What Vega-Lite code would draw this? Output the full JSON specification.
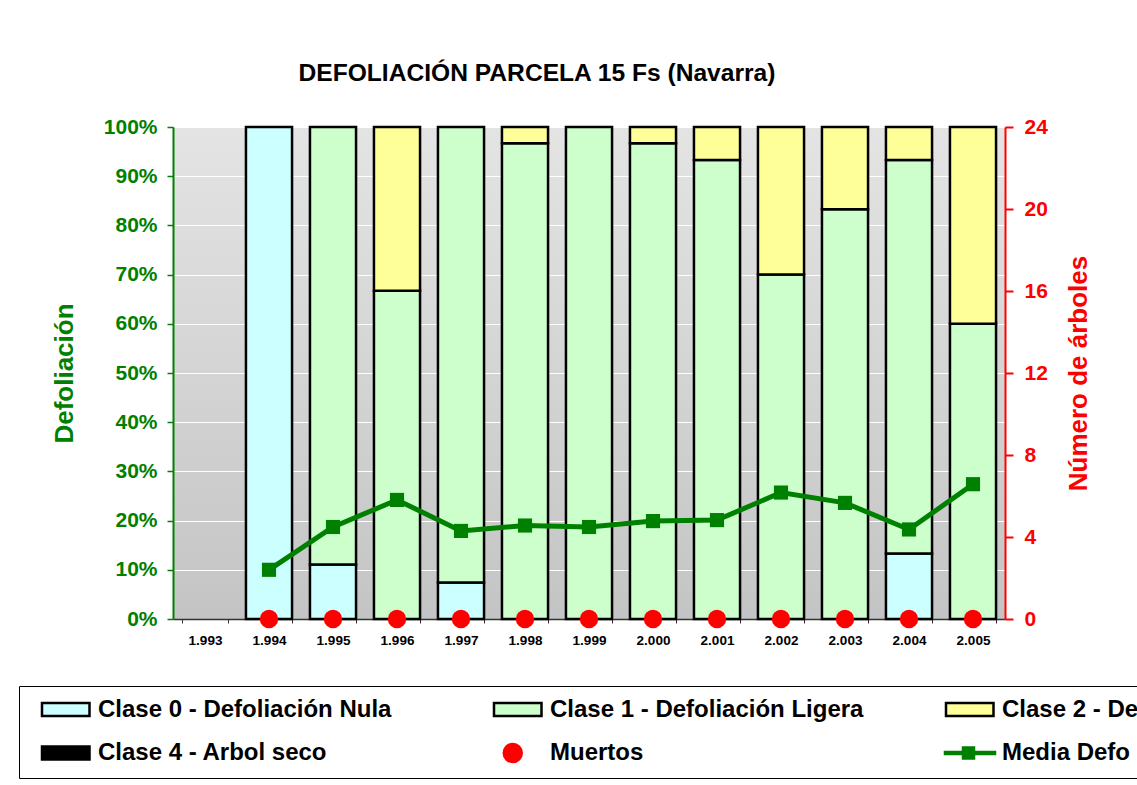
{
  "$schema": "https://vega.github.io/schema/vega-lite/v6.json",
  "width": 832,
  "height": 492,
  "autosize": {"type": "none"},
  "padding": {"left": 173, "top": 127, "right": 132, "bottom": 166},
  "background": "#ffffff",
  "title": {
    "text": "DEFOLIACIÓN PARCELA 15 Fs (Navarra)",
    "font": "Liberation Sans",
    "fontSize": 24.6,
    "fontWeight": "bold",
    "color": "#000000",
    "anchor": "middle",
    "dx": -52,
    "offset": 29
  },
  "datasets": {
    "clases": [
      {"year": "1.994", "serie": "Clase 0 - Defoliación Nula", "clase": 0, "pct": 1.0},
      {"year": "1.995", "serie": "Clase 0 - Defoliación Nula", "clase": 0, "pct": 0.111},
      {"year": "1.995", "serie": "Clase 1 - Defoliación Ligera", "clase": 1, "pct": 0.889},
      {"year": "1.996", "serie": "Clase 1 - Defoliación Ligera", "clase": 1, "pct": 0.667},
      {"year": "1.996", "serie": "Clase 2 - Defoliación Moderada", "clase": 2, "pct": 0.333},
      {"year": "1.997", "serie": "Clase 0 - Defoliación Nula", "clase": 0, "pct": 0.074},
      {"year": "1.997", "serie": "Clase 1 - Defoliación Ligera", "clase": 1, "pct": 0.926},
      {"year": "1.998", "serie": "Clase 1 - Defoliación Ligera", "clase": 1, "pct": 0.967},
      {"year": "1.998", "serie": "Clase 2 - Defoliación Moderada", "clase": 2, "pct": 0.033},
      {"year": "1.999", "serie": "Clase 1 - Defoliación Ligera", "clase": 1, "pct": 1.0},
      {"year": "2.000", "serie": "Clase 1 - Defoliación Ligera", "clase": 1, "pct": 0.967},
      {"year": "2.000", "serie": "Clase 2 - Defoliación Moderada", "clase": 2, "pct": 0.033},
      {"year": "2.001", "serie": "Clase 1 - Defoliación Ligera", "clase": 1, "pct": 0.933},
      {"year": "2.001", "serie": "Clase 2 - Defoliación Moderada", "clase": 2, "pct": 0.067},
      {"year": "2.002", "serie": "Clase 1 - Defoliación Ligera", "clase": 1, "pct": 0.70},
      {"year": "2.002", "serie": "Clase 2 - Defoliación Moderada", "clase": 2, "pct": 0.30},
      {"year": "2.003", "serie": "Clase 1 - Defoliación Ligera", "clase": 1, "pct": 0.833},
      {"year": "2.003", "serie": "Clase 2 - Defoliación Moderada", "clase": 2, "pct": 0.167},
      {"year": "2.004", "serie": "Clase 0 - Defoliación Nula", "clase": 0, "pct": 0.133},
      {"year": "2.004", "serie": "Clase 1 - Defoliación Ligera", "clase": 1, "pct": 0.80},
      {"year": "2.004", "serie": "Clase 2 - Defoliación Moderada", "clase": 2, "pct": 0.067},
      {"year": "2.005", "serie": "Clase 1 - Defoliación Ligera", "clase": 1, "pct": 0.60},
      {"year": "2.005", "serie": "Clase 2 - Defoliación Moderada", "clase": 2, "pct": 0.40}
    ],
    "media": [
      {"year": "1.994", "media": 0.100},
      {"year": "1.995", "media": 0.187},
      {"year": "1.996", "media": 0.242},
      {"year": "1.997", "media": 0.179},
      {"year": "1.998", "media": 0.190},
      {"year": "1.999", "media": 0.187},
      {"year": "2.000", "media": 0.199},
      {"year": "2.001", "media": 0.201},
      {"year": "2.002", "media": 0.257},
      {"year": "2.003", "media": 0.236},
      {"year": "2.004", "media": 0.182},
      {"year": "2.005", "media": 0.274}
    ],
    "muertos": [
      {"year": "1.994", "muertos": 0},
      {"year": "1.995", "muertos": 0},
      {"year": "1.996", "muertos": 0},
      {"year": "1.997", "muertos": 0},
      {"year": "1.998", "muertos": 0},
      {"year": "1.999", "muertos": 0},
      {"year": "2.000", "muertos": 0},
      {"year": "2.001", "muertos": 0},
      {"year": "2.002", "muertos": 0},
      {"year": "2.003", "muertos": 0},
      {"year": "2.004", "muertos": 0},
      {"year": "2.005", "muertos": 0}
    ],
    "vacio": []
  },
  "encoding": {
    "x": {
      "field": "year",
      "type": "ordinal",
      "scale": {
        "type": "band",
        "domain": ["1.993", "1.994", "1.995", "1.996", "1.997", "1.998", "1.999", "2.000", "2.001", "2.002", "2.003", "2.004", "2.005"],
        "paddingInner": 0.28,
        "paddingOuter": 0.14
      },
      "axis": {
        "title": null,
        "labelAngle": 0,
        "tickBand": "extent",
        "labelFont": "Liberation Sans",
        "labelFontSize": 13.5,
        "labelFontWeight": "bold",
        "labelColor": "#000000",
        "labelPadding": 10,
        "domainColor": "#333333",
        "domainWidth": 1.5,
        "tickColor": "#333333",
        "tickSize": 4,
        "grid": false
      }
    }
  },
  "layer": [
    {
      "layer": [
        {
          "data": {"name": "vacio"},
          "mark": {"type": "point", "filled": true, "size": 400, "opacity": 1},
          "encoding": {
            "fill": {
              "field": "serie",
              "type": "nominal",
              "scale": {
                "domain": ["Clase 0 - Defoliación Nula", "Clase 1 - Defoliación Ligera", "Clase 2 - Defoliación Moderada", "Clase 3 - Defoliación Grave", "Clase 4 - Arbol seco", "Muertos", "Media Defo"],
                "range": ["#ccffff", "#ccffcc", "#ffff99", "#ffcc99", "#000000", "#ff0000", "#008000"]
              },
              "legend": {"title": null}
            },
            "stroke": {
              "field": "serie",
              "type": "nominal",
              "scale": {
                "domain": ["Clase 0 - Defoliación Nula", "Clase 1 - Defoliación Ligera", "Clase 2 - Defoliación Moderada", "Clase 3 - Defoliación Grave", "Clase 4 - Arbol seco", "Muertos", "Media Defo"],
                "range": ["#000000", "#000000", "#000000", "#000000", "#000000", "#ff0000", "#008000"]
              },
              "legend": {"title": null}
            },
            "shape": {
              "field": "serie",
              "type": "nominal",
              "scale": {
                "domain": ["Clase 0 - Defoliación Nula", "Clase 1 - Defoliación Ligera", "Clase 2 - Defoliación Moderada", "Clase 3 - Defoliación Grave", "Clase 4 - Arbol seco", "Muertos", "Media Defo"],
                "range": [
                  "M0.1,-0.65H4.85V0.65H0.1Z",
                  "M0.1,-0.65H4.85V0.65H0.1Z",
                  "M0.1,-0.65H4.85V0.65H0.1Z",
                  "M0.1,-0.65H4.85V0.65H0.1Z",
                  "M0.1,-0.65H4.85V0.65H0.1Z",
                  "M1.075,0A0.9,0.9,0,1,0,2.875,0A0.9,0.9,0,1,0,1.075,0Z",
                  "M0,-0.1H5V0.1H0Z M1.8,-0.55H2.9V0.55H1.8Z"
                ]
              },
              "legend": {"title": null}
            }
          }
        },
        {
          "data": {"name": "clases"},
          "mark": {"type": "bar", "strokeWidth": 2.5},
          "encoding": {
            "y": {
              "field": "pct",
              "type": "quantitative",
              "stack": "zero",
              "scale": {"domain": [0, 1], "nice": false},
              "title": "Defoliación",
              "axis": {
                "orient": "left",
                "values": [0, 0.1, 0.2, 0.3, 0.4, 0.5, 0.6, 0.7, 0.8, 0.9, 1.0],
                "format": ".0%",
                "grid": true,
                "gridColor": "#ffffff",
                "gridWidth": 1,
                "gridOpacity": 1,
                "domainColor": "#008000",
                "domainWidth": 2,
                "tickColor": "#008000",
                "tickWidth": 1.5,
                "tickSize": 6,
                "labelColor": "#008000",
                "labelFont": "Liberation Sans",
                "labelFontSize": 21,
                "labelFontWeight": "bold",
                "labelPadding": 10,
                "titleColor": "#008000",
                "titleFont": "Liberation Sans",
                "titleFontSize": 26,
                "titleFontWeight": "bold",
                "titlePadding": 26
              }
            },
            "fill": {"field": "serie", "type": "nominal"},
            "stroke": {"field": "serie", "type": "nominal"},
            "order": {"field": "clase", "type": "quantitative"}
          }
        },
        {
          "data": {"name": "media"},
          "mark": {
            "type": "line",
            "color": "#008000",
            "strokeWidth": 5,
            "point": {"shape": "square", "size": 200, "filled": true, "color": "#008000"}
          },
          "encoding": {
            "y": {"field": "media", "type": "quantitative", "title": "Defoliación"}
          }
        }
      ]
    },
    {
      "data": {"name": "muertos"},
      "mark": {"type": "point", "shape": "circle", "filled": true, "color": "#ff0000", "size": 340, "opacity": 1},
      "encoding": {
        "y": {
          "field": "muertos",
          "type": "quantitative",
          "scale": {"domain": [0, 24], "nice": false},
          "title": "Número de árboles",
          "axis": {
            "orient": "right",
            "values": [0, 4, 8, 12, 16, 20, 24],
            "grid": false,
            "domainColor": "#ff0000",
            "domainWidth": 2,
            "tickColor": "#ff0000",
            "tickWidth": 2,
            "tickSize": 8,
            "labelColor": "#ff0000",
            "labelFont": "Liberation Sans",
            "labelFontSize": 21,
            "labelFontWeight": "bold",
            "labelPadding": 11,
            "titleColor": "#ff0000",
            "titleFont": "Liberation Sans",
            "titleFontSize": 26,
            "titleFontWeight": "bold",
            "titleAngle": 270,
            "titlePadding": 44
          }
        }
      }
    }
  ],
  "resolve": {"scale": {"y": "independent"}},
  "config": {
    "view": {
      "fill": {
        "gradient": "linear",
        "x1": 0, "y1": 0, "x2": 0, "y2": 1,
        "stops": [
          {"offset": 0, "color": "#e4e4e4"},
          {"offset": 1, "color": "#c4c4c4"}
        ]
      },
      "stroke": "#a0a0a0",
      "strokeWidth": 1
    },
    "legend": {
      "orient": "none",
      "legendX": -154,
      "legendY": 559,
      "direction": "horizontal",
      "columns": 4,
      "gridAlign": "all",
      "padding": 10,
      "strokeColor": "#000000",
      "fillColor": "#ffffff",
      "labelFont": "Liberation Sans",
      "labelFontSize": 24,
      "labelFontWeight": "bold",
      "labelColor": "#000000",
      "labelOffset": 45,
      "labelLimit": 340,
      "columnPadding": 45,
      "rowPadding": 15,
      "symbolSize": 400,
      "symbolStrokeWidth": 2.5
    }
  }
}
